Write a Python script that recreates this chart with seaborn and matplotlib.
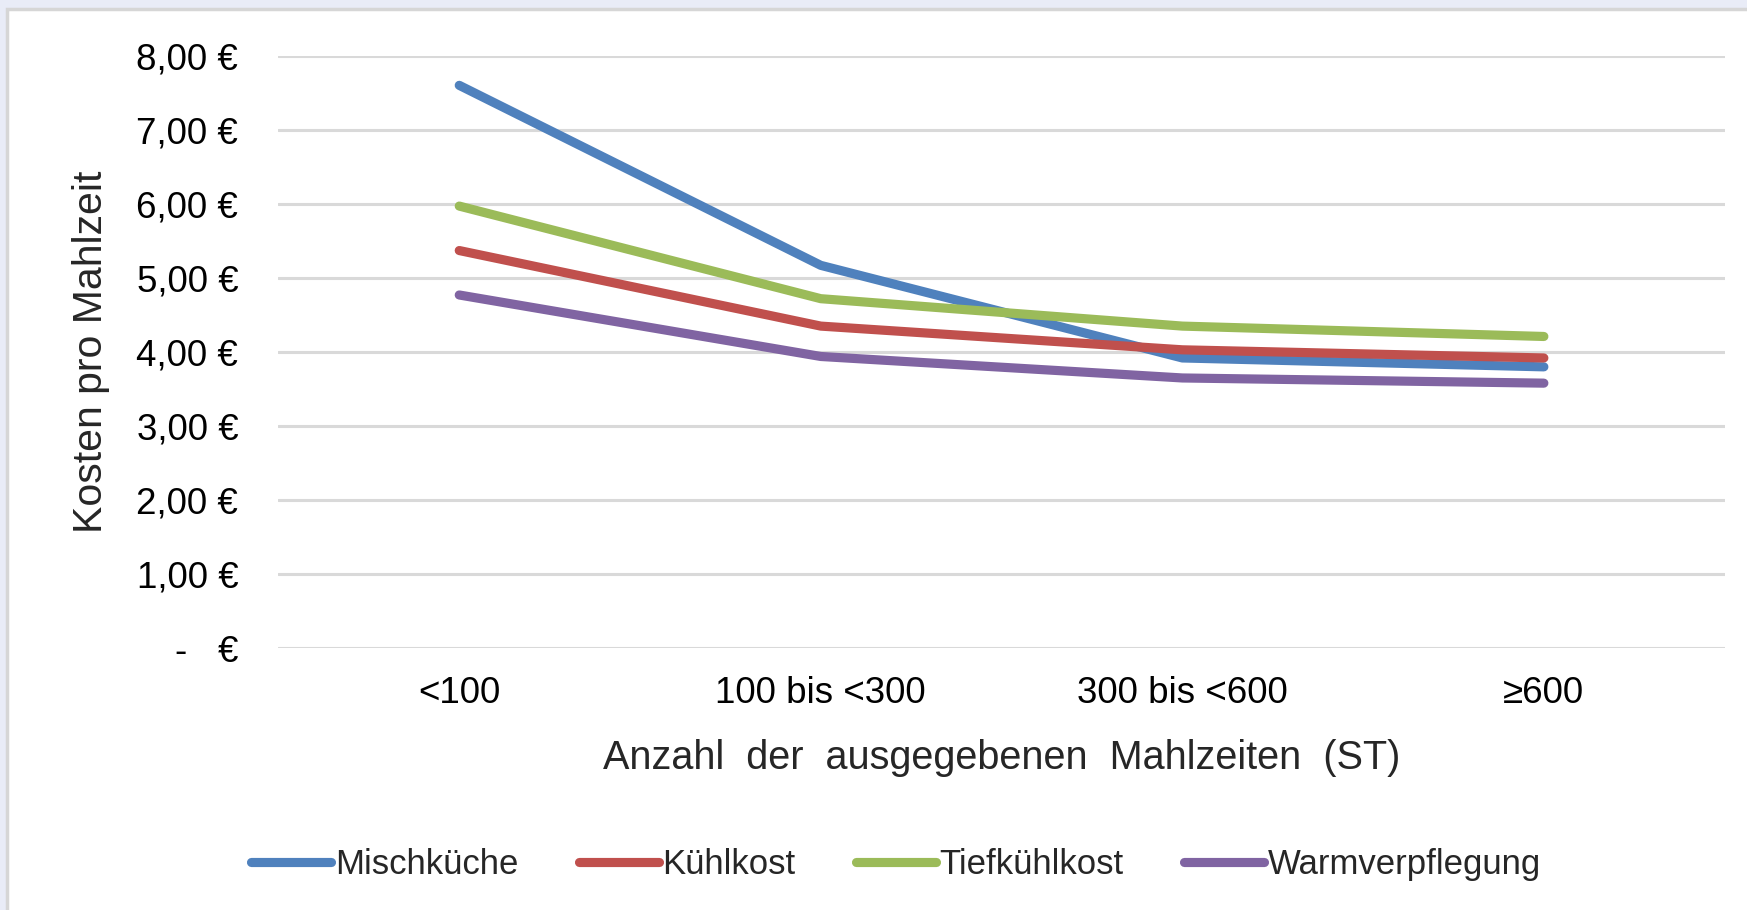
import matplotlib
matplotlib.use("Agg")
import matplotlib.pyplot as plt
import seaborn as sns
import pandas as pd
from matplotlib.patches import Rectangle
from matplotlib.ticker import FuncFormatter

categories = ["<100", "100 bis <300", "300 bis <600", "≥600"]
mischkueche = [7.60, 5.17, 3.92, 3.80]
kuehlkost = [5.37, 4.35, 4.03, 3.92]
tiefkuehlkost = [5.97, 4.72, 4.35, 4.21]
warmverpflegung = [4.77, 3.94, 3.65, 3.58]
series_names = ["Mischküche", "Kühlkost", "Tiefkühlkost", "Warmverpflegung"]
colors = ["#4F81BD", "#C0504D", "#9BBB59", "#8064A2"]

rows = []
for name, vals in zip(series_names, [mischkueche, kuehlkost, tiefkuehlkost, warmverpflegung]):
    for i, (c, v) in enumerate(zip(categories, vals)):
        rows.append({"Kategorie": c, "pos": i, "Serie": name, "Wert": v})
df = pd.DataFrame(rows)

sns.set_theme(style="white")
plt.rcParams['font.family'] = ['Liberation Sans', 'DejaVu Sans']

fig = plt.figure(figsize=(17.47, 9.10), dpi=100)
fig.patch.set_facecolor("#E9ECF7")
fig.patches.append(Rectangle((7 / 1747, -0.05), 1.05, 1.05 - 9 / 910,
                             transform=fig.transFigure, facecolor="white",
                             edgecolor="#D6D6D6", linewidth=2.5, zorder=-5))

ax = fig.add_axes([0.1594, 0.2875, 0.8278, 0.6513])
ax.set_facecolor("none")

sns.lineplot(data=df, x="pos", y="Wert", hue="Serie", hue_order=series_names,
             palette=colors, linewidth=6.6, ax=ax, sort=False, legend=True,
             solid_capstyle="round")

ax.set_xlim(-0.5, 3.5)
ax.set_ylim(0, 8)
ax.set_yticks(range(0, 9))

def fmt(v, pos):
    if v == 0:
        return "-   €"
    return f"{v:.2f}".replace(".", ",") + " €"

ax.yaxis.set_major_formatter(FuncFormatter(fmt))
ax.set_xticks(range(len(categories)))
ax.set_xticklabels(categories)
ax.tick_params(axis="both", length=0, labelsize=26.5, colors="black")
ax.tick_params(axis="x", pad=20)
ax.tick_params(axis="y", pad=29)
ax.grid(axis="y", color="#D9D9D9", linewidth=2.2)
ax.set_axisbelow(True)
for s in ax.spines.values():
    s.set_visible(False)

ax.set_xlabel("Anzahl  der  ausgegebenen  Mahlzeiten  (ST)", fontsize=28.5, labelpad=20)
ax.set_ylabel("Kosten pro Mahlzeit", fontsize=29.5, labelpad=19)

handles, labels = ax.get_legend_handles_labels()
ax.legend(handles, labels, loc="center", bbox_to_anchor=(0.513, 0.05),
          bbox_transform=fig.transFigure, ncol=4, frameon=False,
          fontsize=25, handlelength=2.3, handletextpad=0.1, columnspacing=1.75)

fig.savefig("out.png", dpi=100, facecolor=fig.get_facecolor())
